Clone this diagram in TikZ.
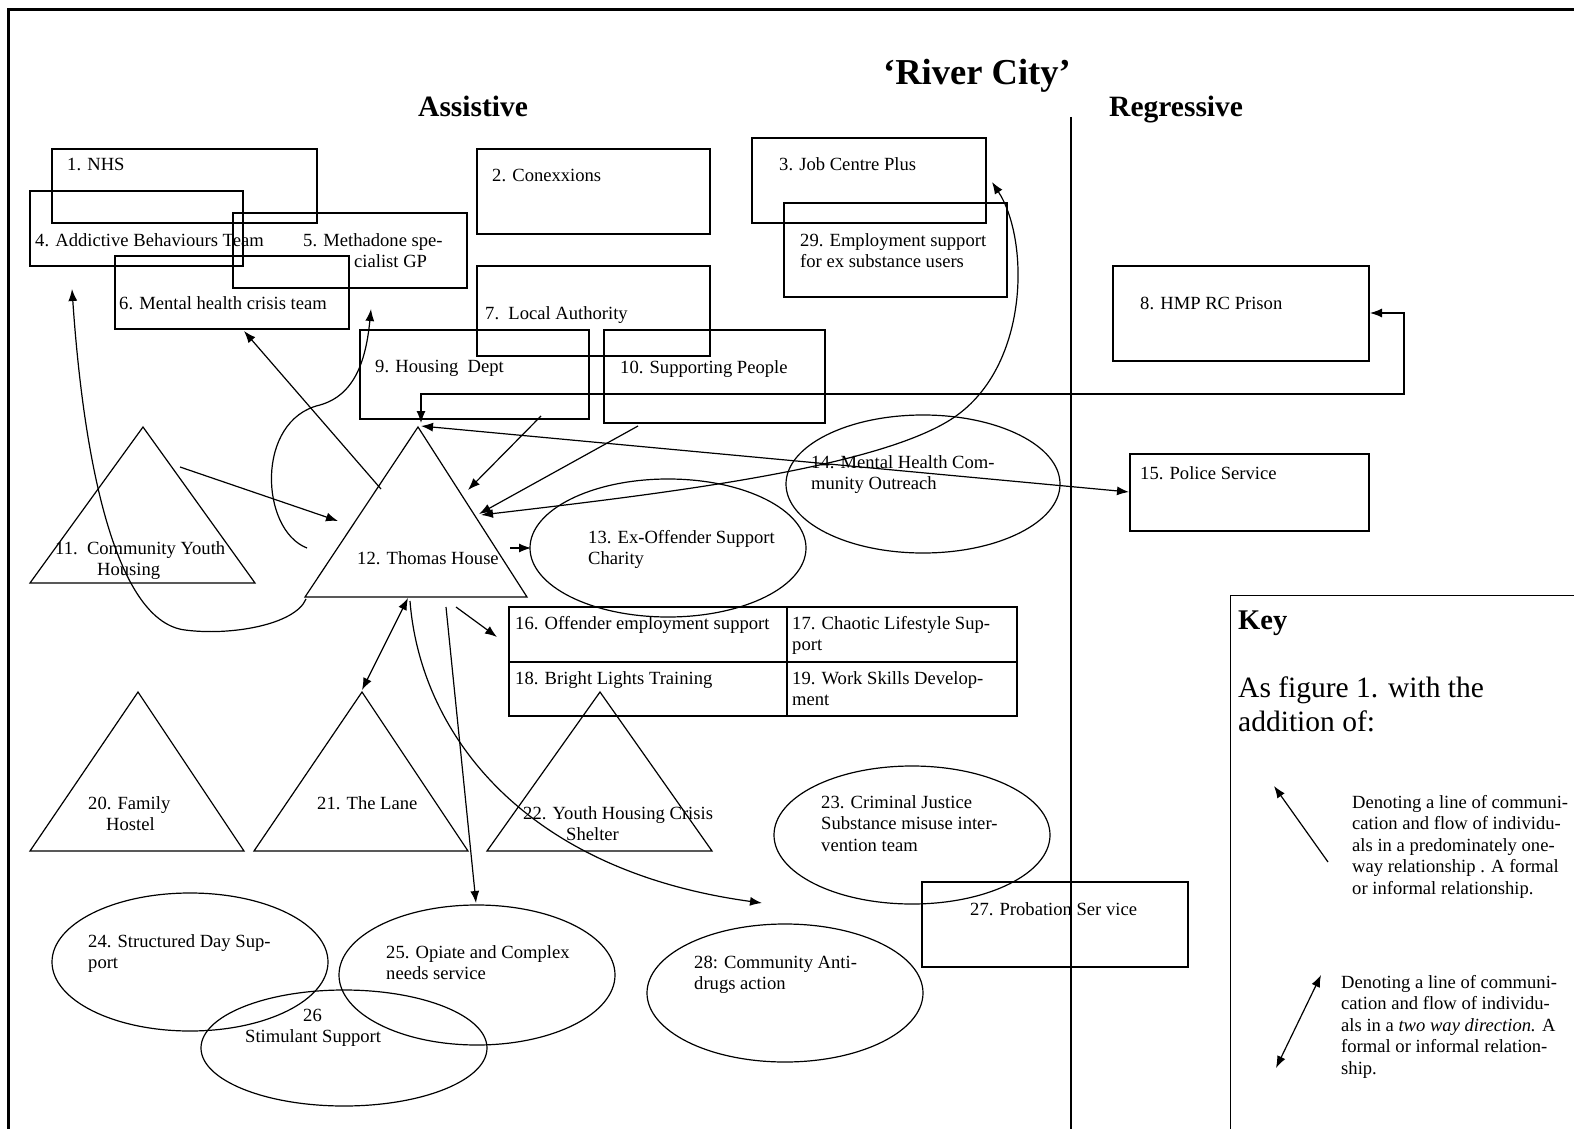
\documentclass[tikz,border=0pt]{standalone}
\usepackage{fontspec}
\setmainfont{Liberation Serif}
\usetikzlibrary{shapes.geometric,arrows.meta}

\begin{document}
\begin{tikzpicture}[x=1pt,y=-1pt,
  box/.style={draw,line width=1.2pt,inner sep=0pt},
  cell/.style={draw,line width=1.7pt,inner sep=0pt},
  oval/.style={draw,ellipse,line width=1.2pt,inner sep=0pt},
  lbl/.style={anchor=base west,inner sep=0pt,align=left,font=\fontsize{18.6}{21.5}\selectfont},
  head/.style={anchor=base west,inner sep=0pt,font=\bfseries\fontsize{29.5}{34}\selectfont},
  flow/.style={line width=1.2pt,-{Latex[length=12pt,width=9pt]}},
  twoway/.style={line width=1.2pt,{Latex[length=12pt,width=9pt]}-{Latex[length=12pt,width=9pt]}}]

\useasboundingbox (0,0) rectangle (1574,1129);
\clip (0,0) rectangle (1574,1129);

\draw[line width=3pt] (8,1200) -- (8,10) -- (1650,10);
\draw[line width=1.2pt] (1071,117) -- (1071,1200);

\node[anchor=base west,inner sep=0pt,font=\bfseries\fontsize{36.5}{40}\selectfont] (title) at (883,85) {`River City'};
\node[head] (assist) at (418,117) {Assistive};
\node[head] (regress) at (1109,117) {Regressive};

% boxes
\node[box,minimum width=265pt,minimum height=74pt] (nhs) at (184.5,186) {};
\node[box,minimum width=213pt,minimum height=75pt] (abt) at (136.5,228.5) {};
\node[box,minimum width=234pt,minimum height=75pt] (gp) at (350,250.5) {};
\node[box,minimum width=234pt,minimum height=73pt] (mhct) at (232,292.5) {};
\node[box,minimum width=233pt,minimum height=85pt] (conx) at (593.5,191.5) {};
\node[box,minimum width=234pt,minimum height=85pt] (jcp) at (869,180.5) {};
\node[box,minimum width=223pt,minimum height=94pt] (emp) at (895.5,250) {};
\node[box,minimum width=233pt,minimum height=90pt] (la) at (593.5,311) {};
\node[box,minimum width=229pt,minimum height=89pt] (hd) at (474.5,374.5) {};
\node[box,minimum width=221pt,minimum height=93pt] (sp) at (714.5,376.5) {};
\node[box,minimum width=256pt,minimum height=95pt] (hmp) at (1241,313.5) {};
\node[box,minimum width=239pt,minimum height=77pt] (pol) at (1249.5,492.5) {};
\node[box,minimum width=266pt,minimum height=85pt] (prob) at (1055,924.5) {};

\node[lbl] (nhs-t) at (67,171) {1. NHS};
\node[lbl] (abt-t) at (35,246) {4. Addictive Behaviours Team};
\node[lbl] (gp-t) at (303,267.5) {5. Methadone spe-\\\hspace*{51pt}cialist GP};
\node[lbl] (mhct-t) at (119,309) {6. Mental health crisis team};
\node[lbl] (conx-t) at (492,182) {2. Conexxions};
\node[lbl] (jcp-t) at (779,171) {3. Job Centre Plus};
\node[lbl] (emp-t) at (800,267.5) {29. Employment support\\for ex substance users};
\node[lbl] (la-t) at (485,319) {7.\ \ Local Authority};
\node[lbl] (hd-t) at (375,372) {9. Housing\ \ Dept};
\node[lbl] (sp-t) at (620,373) {10. Supporting People};
\node[lbl] (hmp-t) at (1140,309) {8. HMP RC Prison};
\node[lbl] (pol-t) at (1140,479) {15. Police Service};
\node[lbl] (prob-t) at (970,915) {27. Probation Ser vice};

% table
\node[cell,minimum width=278pt,minimum height=55pt] (oes) at (648,634.5) {};
\node[cell,minimum width=230pt,minimum height=55pt] (cls) at (902,634.5) {};
\node[cell,minimum width=278pt,minimum height=54pt] (blt) at (648,689) {};
\node[cell,minimum width=230pt,minimum height=54pt] (wsd) at (902,689) {};
\node[lbl] (oes-t) at (515,629) {16. Offender employment support};
\node[lbl] (cls-t) at (792,650.5) {17. Chaotic Lifestyle Sup-\\port};
\node[lbl] (blt-t) at (515,684) {18. Bright Lights Training};
\node[lbl] (wsd-t) at (792,705.5) {19. Work Skills Develop-\\ment};

% triangles
\draw[line width=1.2pt] (143,427) coordinate (cyh) -- (255,583) -- (30,583) -- cycle;
\draw[line width=1.2pt] (418,427) coordinate (th) -- (527,597) -- (305,597) -- cycle;
\draw[line width=1.2pt] (138,692) coordinate (fh) -- (244,851) -- (30,851) -- cycle;
\draw[line width=1.2pt] (362,692) coordinate (lane) -- (468,851) -- (254,851) -- cycle;
\draw[line width=1.2pt] (600,692) coordinate (yhc) -- (712,851) -- (487,851) -- cycle;
\node[lbl] (cyh-t) at (55,575.5) {11.\ \ Community Youth\\\hspace*{42pt}Housing};
\node[lbl] (th-t) at (357,564) {12. Thomas House};
\node[lbl] (fh-t) at (88,830.5) {20. Family\\\hspace*{18pt}Hostel};
\node[lbl] (lane-t) at (317,809) {21. The Lane};
\node[lbl] (yhc-t) at (523,840.5) {22. Youth Housing Crisis\\\hspace*{43pt}Shelter};

% ellipses
\node[oval,minimum width=276pt,minimum height=138pt] (exo) at (668,548) {};
\node[oval,minimum width=274pt,minimum height=138pt] (mhco) at (923,484) {};
\node[oval,minimum width=276pt,minimum height=138pt] (cjs) at (912,835) {};
\node[oval,minimum width=276pt,minimum height=138pt] (sds) at (190,962) {};
\node[oval,minimum width=276pt,minimum height=140pt] (ocn) at (477,975) {};
\node[oval,minimum width=286pt,minimum height=116pt] (stim) at (344,1048) {};
\node[oval,minimum width=276pt,minimum height=138pt] (cad) at (785,993) {};
\node[lbl] (exo-t) at (588,564.5) {13. Ex-Offender Support\\Charity};
\node[lbl] (mhco-t) at (811,489.5) {14. Mental Health Com-\\munity Outreach};
\node[lbl] (cjs-t) at (821,851) {23. Criminal Justice\\Substance misuse inter-\\vention team};
\node[lbl] (sds-t) at (88,968.5) {24. Structured Day Sup-\\port};
\node[lbl] (ocn-t) at (386,979.5) {25. Opiate and Complex\\needs service};
\node[lbl] (stim-t) at (245,1042.5) {\hspace*{58pt}26\\Stimulant Support};
\node[lbl] (cad-t) at (694,989.5) {28: Community Anti-\\drugs action};

% key
\node[box,minimum width=420pt,minimum height=600pt,anchor=north west] (key) at (1230,595) {};
\node[anchor=base west,inner sep=0pt,font=\bfseries\fontsize{28.5}{34}\selectfont] (key-t) at (1238,629) {Key};
\node[anchor=base west,inner sep=0pt,align=left,font=\fontsize{29.5}{34}\selectfont] (key-s) at (1238,731) {As figure 1. with the\\addition of:};
\node[lbl] (key-a) at (1352,894) {Denoting a line of communi-\\cation and flow of individu-\\als in a predominately one-\\way relationship . A formal\\or informal relationship.};
\node[lbl] (key-b) at (1341,1074) {Denoting a line of communi-\\cation and flow of individu-\\als in a \textit{two way direction.} A\\formal or informal relation-\\ship.};
\coordinate (ka1) at (1328,862);
\coordinate (ka2) at (1274,786);
\coordinate (kb1) at (1276,1068);
\coordinate (kb2) at (1321,975);
\draw[flow] (ka1) -- (ka2);
\draw[twoway] (kb1) -- (kb2);

% connectors
\coordinate (a1) at (180,467);
\coordinate (a2) at (338,521);
\coordinate (b1) at (381,489);
\coordinate (b2) at (244,331);
\coordinate (c1) at (307,548);
\coordinate (c2) at (371,309);
\coordinate (d1) at (306,599);
\coordinate (d2) at (72,289);
\coordinate (e1) at (541,416);
\coordinate (e2) at (468,490);
\coordinate (f1) at (638,426);
\coordinate (f2) at (479,514);
\coordinate (g1) at (481,515);
\coordinate (g2) at (992,182);
\coordinate (h1) at (421,426);
\coordinate (h2) at (1129,492);
\coordinate (i1) at (421,423);
\coordinate (i2) at (1370,313);
\coordinate (j1) at (510,548);
\coordinate (j2) at (531,548);
\coordinate (k1) at (456,607);
\coordinate (k2) at (497,637);
\coordinate (l1) at (408,598);
\coordinate (l2) at (362,690);
\coordinate (m1) at (410,601);
\coordinate (m2) at (762,903);
\coordinate (n1) at (446,607);
\coordinate (n2) at (476,903);

\draw[flow] (a1) -- (a2);
\draw[flow] (b1) -- (b2);
\draw[flow] (c1) .. controls (260,530) and (255,420) .. (320,405) .. controls (355,395) and (366,360) .. (c2);
\draw[flow] (d1) .. controls (295,625) and (230,636) .. (185,630) .. controls (120,622) and (85,480) .. (d2);
\draw[flow] (e1) -- (e2);
\draw[flow] (f1) -- (f2);
\draw[twoway] (g1) .. controls (650,495) and (870,470) .. (950,420) .. controls (1030,370) and (1030,240) .. (g2);
\draw[twoway] (h1) -- (h2);
\draw[twoway] (i1) -- (421,394) -- (1404,394) -- (1404,313) -- (i2);
\draw[flow] (j1) -- (j2);
\draw[flow] (k1) -- (k2);
\draw[twoway] (l1) -- (l2);
\draw[flow] (m1) .. controls (420,730) and (520,870) .. (m2);
\draw[flow] (n1) -- (n2);
\end{tikzpicture}
\end{document}
